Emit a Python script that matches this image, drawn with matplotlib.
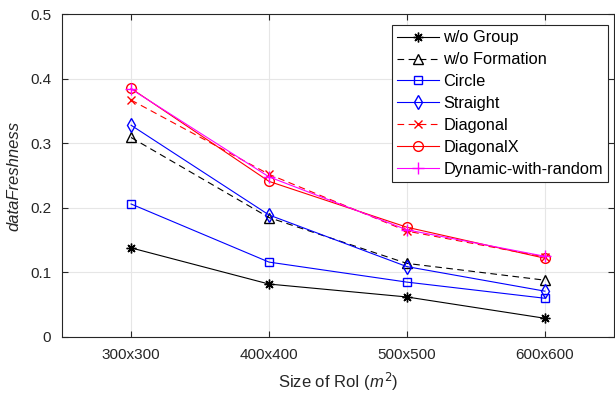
import matplotlib.pyplot as plt
import numpy as np

plt.rcParams['font.family'] = ['Liberation Sans', 'DejaVu Sans']
plt.rcParams['mathtext.fontset'] = 'custom'
plt.rcParams['mathtext.it'] = 'Liberation Sans:italic'

sizes = ['300x300', '400x400', '500x500', '600x600']
wo_group = [0.138, 0.082, 0.062, 0.029]
wo_formation = [0.309, 0.185, 0.114, 0.088]
circle = [0.206, 0.116, 0.085, 0.060]
straight = [0.328, 0.189, 0.109, 0.071]
diagonal = [0.367, 0.252, 0.164, 0.124]
diagonal_x = [0.385, 0.241, 0.170, 0.122]
dynamic = [0.384, 0.248, 0.166, 0.125]

x = np.arange(1, len(sizes) + 1)

fig = plt.figure(figsize=(6.15, 3.93), dpi=100)
ax = fig.add_axes([0.101, 0.1425, 0.897, 0.8215])

lw = 0.8
ax.plot(x, wo_group, color='black', marker=(8, 2, 0), ms=7, mew=1, lw=lw, label='w/o Group')
ax.plot(x, wo_formation, color='black', ls=(0, (6, 4)), marker='^', ms=7, mfc='none', lw=lw, label='w/o Formation')
ax.plot(x, circle, color='blue', marker='s', ms=6, mfc='none', lw=lw, label='Circle')
ax.plot(x, straight, color='blue', marker='d', ms=7, mfc='none', lw=lw, label='Straight')
ax.plot(x, diagonal, color='red', ls=(0, (6, 4)), marker='x', ms=6, lw=lw, label='Diagonal')
ax.plot(x, diagonal_x, color='red', marker='o', ms=7, mfc='none', lw=lw, label='DiagonalX')
ax.plot(x, dynamic, color='magenta', marker='+', ms=8, lw=lw, label='Dynamic-with-random')

ax.set_xlim(0.5, 4.5)
ax.set_ylim(0, 0.5)
ax.set_xticks(x)
ax.set_xticklabels(sizes)
ax.set_yticks([0, 0.1, 0.2, 0.3, 0.4, 0.5])
ax.set_yticklabels(['0', '0.1', '0.2', '0.3', '0.4', '0.5'])
ax.tick_params(direction='in', labelsize=11, colors='#262626', length=4, top=True, right=True, pad=8)
ax.grid(True, color='#e6e6e6', lw=0.8)
ax.set_axisbelow(True)
for s in ax.spines.values():
    s.set_color('#262626')
    s.set_linewidth(0.8)

ax.set_xlabel('Size of RoI ($m^2$)', fontsize=12, color='#262626', labelpad=6)
ax.set_ylabel('dataFreshness', fontsize=12, style='italic', color='#262626', labelpad=6)

leg = ax.legend(loc='upper right', bbox_to_anchor=(0.989, 0.965), fontsize=11.8, fancybox=False,
                edgecolor='#262626', framealpha=1, handlelength=2.55, borderpad=0.3,
                labelspacing=0.42, handletextpad=0.25, borderaxespad=0)
leg.get_frame().set_linewidth(0.8)

fig.savefig('out.png', dpi=100)
